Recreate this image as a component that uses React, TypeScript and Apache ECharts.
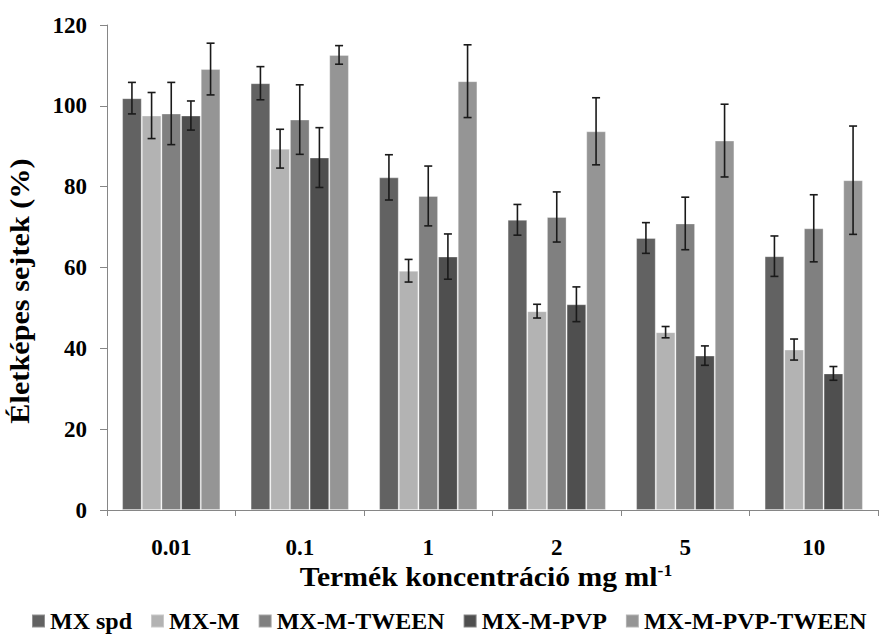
import React, { useEffect, useRef } from "react";
import * as echarts from "echarts";

const categories = ["0.01", "0.1", "1", "2", "5", "10"];
const seriesNames = ["MX spd", "MX-M", "MX-M-TWEEN", "MX-M-PVP", "MX-M-PVP-TWEEN"];
const seriesColors = ["#626262", "#b3b3b3", "#808080", "#4f4f4f", "#959595"];

const mxSpd = [101.9, 105.6, 82.3, 71.8, 67.3, 62.8];
const mxM = [97.6, 89.4, 59.2, 49.2, 44.0, 39.7];
const mxMTween = [98.1, 96.6, 77.7, 72.5, 70.9, 69.7];
const mxMPvp = [97.6, 87.2, 62.7, 50.9, 38.2, 33.8];
const mxMPvpTween = [109.1, 112.6, 106.1, 93.7, 91.4, 81.6];

const errMxSpd = [3.9, 4.1, 5.6, 3.8, 3.8, 5.0];
const errMxM = [5.7, 4.8, 2.8, 1.7, 1.4, 2.6];
const errMxMTween = [7.7, 8.6, 7.4, 6.2, 6.5, 8.3];
const errMxMPvp = [3.6, 7.4, 5.6, 4.3, 2.4, 1.7];
const errMxMPvpTween = [6.4, 2.3, 9.0, 8.3, 9.0, 13.4];

const yTicks = [0, 20, 40, 60, 80, 100, 120];

const values = [mxSpd, mxM, mxMTween, mxMPvp, mxMPvpTween];
const errors = [errMxSpd, errMxM, errMxMTween, errMxMPvp, errMxMPvpTween];

const FONT = "Liberation Serif";
const CAT_GAP = 0.235;

export default function App() {
  const ref = useRef<HTMLDivElement>(null);
  useEffect(() => {
    if (!ref.current) return;
    const chart = echarts.init(ref.current, null, { renderer: "svg" });

    const errData: number[][] = [];
    values.forEach((vals, s) => {
      vals.forEach((v, c) => {
        errData.push([c, v - errors[s][c], v + errors[s][c], s]);
      });
    });

    const barSeries = seriesNames.map((name, s) => ({
      name,
      type: "bar",
      data: values[s],
      barGap: "0%",
      barCategoryGap: CAT_GAP * 100 + "%",
      itemStyle: {
        color: seriesColors[s],
        borderColor: "rgba(255,255,255,0.3)",
        borderWidth: 1,
      },
    }));

    const errorSeries = {
      type: "custom",
      name: "err",
      data: errData,
      encode: { x: 0, y: [1, 2] },
      z: 10,
      renderItem: (params: any, api: any) => {
        const c = api.value(0);
        const lo = api.value(1);
        const hi = api.value(2);
        const s = api.value(3);
        const band = api.size([1, 0])[0];
        const barW = (band * (1 - CAT_GAP)) / 5;
        const cx = api.coord([c, 0])[0] + (s - 2) * barW;
        const yLo = api.coord([c, lo])[1];
        const yHi = api.coord([c, hi])[1];
        const cap = 4;
        const style = { stroke: "#1a1a1a", lineWidth: 1.6 };
        return {
          type: "group",
          children: [
            { type: "line", shape: { x1: cx, y1: yLo, x2: cx, y2: yHi }, style },
            { type: "line", shape: { x1: cx - cap, y1: yHi, x2: cx + cap, y2: yHi }, style },
            { type: "line", shape: { x1: cx - cap, y1: yLo, x2: cx + cap, y2: yLo }, style },
          ],
        };
      },
    };

    chart.setOption({
      animation: false,
      backgroundColor: "#ffffff",
      grid: { left: 107, right: 11, top: 25, bottom: 125 },
      legend: {
        data: seriesNames,
        left: 26,
        top: 604,
        icon: "rect",
        itemWidth: 13,
        itemHeight: 13,
        itemGap: 18,
        textStyle: { fontFamily: FONT, fontSize: 24, fontWeight: "bold", color: "#000" },
      },
      xAxis: {
        type: "category",
        data: categories,
        axisLine: { lineStyle: { color: "#868686", width: 1 } },
        axisTick: { show: true, length: 6, lineStyle: { color: "#868686" } },
        axisLabel: { fontFamily: FONT, fontSize: 23, fontWeight: "bold", color: "#000", margin: 26 },
      },
      yAxis: {
        type: "value",
        min: yTicks[0],
        max: yTicks[yTicks.length - 1],
        interval: yTicks[1] - yTicks[0],
        splitLine: { show: false },
        axisLine: { show: true, lineStyle: { color: "#868686", width: 1 } },
        axisTick: { show: true, length: 7, lineStyle: { color: "#868686" } },
        axisLabel: { fontFamily: FONT, fontSize: 23, fontWeight: "bold", color: "#000", margin: 20 },
      },
      graphic: [
        {
          type: "text",
          x: 20,
          y: 291,
          rotation: Math.PI / 2,
          scaleX: 1.12,
          style: {
            text: "Életképes sejtek (%)",
            fontFamily: FONT,
            fontSize: 27,
            fontWeight: "bold",
            fill: "#000",
            align: "center",
            verticalAlign: "middle",
          },
        },
        {
          type: "text",
          x: 486,
          y: 577,
          scaleX: 1.1,
          style: {
            text: "Termék koncentráció mg ml{sup|-1}",
            fontFamily: FONT,
            fontSize: 27,
            fontWeight: "bold",
            fill: "#000",
            align: "center",
            verticalAlign: "middle",
            rich: {
              sup: {
                fontFamily: FONT,
                fontSize: 16,
                fontWeight: "bold",
                fill: "#000",
                padding: [0, 0, 13, 0],
              },
            },
          },
        },
      ],
      series: [...barSeries, errorSeries],
    });
    return () => chart.dispose();
  }, []);
  return <div ref={ref} style={{ width: 889, height: 635, position: "absolute", left: 0, top: 0 }} />;
}
